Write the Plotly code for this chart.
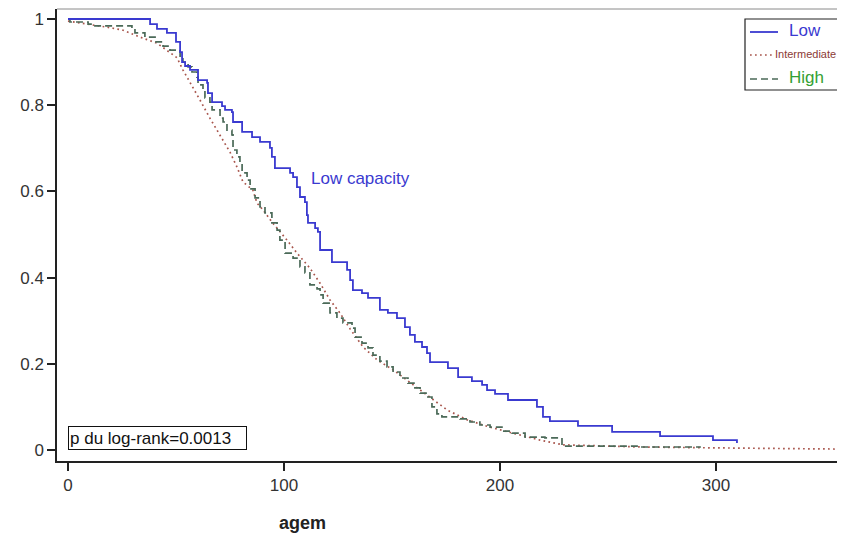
import plotly.graph_objects as go

# ---- data ----
low_t = [0, 38.0, 41.2, 45.8, 50.0, 51.9, 52.8, 54.2, 56.5, 60.2, 64.4, 64.8, 66.7, 71.3, 72.7, 75.9,
         76.4, 80.6, 85.2, 88.9, 93.5, 94.4, 95.8, 102.8, 104.2, 106.0, 107.4, 109.7, 110.6, 111.1,
         114.4, 115.7, 116.7, 122.2, 129.2, 130.6, 131.9, 136.1, 138.9, 144.4, 148.1, 152.3, 156.0,
         158.3, 160.6, 163.9, 166.2, 167.6, 175.9, 180.6, 187.0, 191.7, 194.0, 197.7, 203.7, 217.1,
         219.9, 223.1, 236.1, 251.9, 274.1, 298.6, 309.7]
low_s = [1.0, 0.988, 0.977, 0.968, 0.947, 0.923, 0.900, 0.891, 0.882, 0.858, 0.852, 0.828, 0.807,
         0.798, 0.789, 0.784, 0.761, 0.738, 0.726, 0.715, 0.701, 0.680, 0.654, 0.643, 0.633, 0.610,
         0.587, 0.575, 0.545, 0.527, 0.515, 0.506, 0.464, 0.436, 0.418, 0.394, 0.371, 0.364, 0.353,
         0.325, 0.318, 0.306, 0.285, 0.267, 0.251, 0.239, 0.225, 0.204, 0.190, 0.169, 0.160, 0.151,
         0.139, 0.130, 0.116, 0.100, 0.077, 0.067, 0.056, 0.042, 0.032, 0.023, 0.016]

inter_t = [0, 10.2, 18.1, 25.5, 33.3, 41.2, 47.2, 50.5, 53.2, 56.5, 61.1, 65.7, 70.4, 75.0, 78.2,
           81.0, 85.6, 87.5, 90.3, 94.4, 101.4, 106.0, 112.0, 116.7, 121.3, 125.9, 130.6, 136.6,
           143.1, 150.5, 156.9, 163.0, 169.0, 175.5, 184.7, 195.4, 206.0, 218.5, 229.2, 264.8,
           298.6, 359.7]
inter_s = [0.995, 0.988, 0.981, 0.974, 0.958, 0.944, 0.923, 0.910, 0.882, 0.854, 0.812, 0.770,
           0.731, 0.691, 0.657, 0.622, 0.603, 0.573, 0.557, 0.529, 0.487, 0.457, 0.422, 0.387,
           0.348, 0.318, 0.281, 0.239, 0.209, 0.186, 0.162, 0.139, 0.116, 0.093, 0.070, 0.053,
           0.039, 0.023, 0.012, 0.007, 0.005, 0.002]

high_t = [0, 0.9, 9.3, 11.1, 29.6, 31.0, 35.6, 40.3, 44.0, 47.2, 51.9, 53.2, 55.6, 57.4, 59.7, 60.2,
          62.5, 63.4, 65.7, 66.7, 70.4, 71.8, 73.6, 75.9, 76.4, 78.2, 79.6, 80.6, 82.9, 84.3, 86.6,
          88.9, 91.2, 94.4, 96.8, 98.1, 100.5, 104.2, 107.4, 109.7, 112.0, 115.3, 116.7, 118.1,
          121.3, 124.5, 127.3, 131.5, 132.9, 136.1, 138.9, 141.2, 144.4, 147.7, 150.5, 153.7,
          157.4, 160.6, 163.0, 166.2, 168.5, 170.8, 173.1, 181.5, 186.1, 190.7, 195.4, 200.9,
          205.6, 211.6, 220.8, 228.7, 264.8, 292.6]
high_s = [1.0, 0.993, 0.988, 0.984, 0.977, 0.968, 0.958, 0.947, 0.937, 0.928, 0.910, 0.900, 0.889,
          0.877, 0.865, 0.847, 0.835, 0.817, 0.807, 0.789, 0.770, 0.761, 0.742, 0.731, 0.696,
          0.680, 0.666, 0.643, 0.626, 0.606, 0.585, 0.564, 0.550, 0.527, 0.510, 0.487, 0.457,
          0.445, 0.425, 0.411, 0.383, 0.374, 0.360, 0.341, 0.318, 0.306, 0.295, 0.283, 0.262,
          0.248, 0.237, 0.220, 0.206, 0.193, 0.181, 0.167, 0.155, 0.144, 0.132, 0.123, 0.100,
          0.084, 0.077, 0.072, 0.065, 0.058, 0.053, 0.044, 0.039, 0.030, 0.028, 0.009, 0.007, 0.005]

x_ticks = [0, 100, 200, 300]
y_ticks = [0, 0.2, 0.4, 0.6, 0.8, 1]
y_labels = ["0", "0.2", "0.4", "0.6", "0.8", "1"]

BLUE = "#3a3ad0"
RED = "#a8554c"
GREEN = "#4b6a58"
FONT = "Liberation Sans, Arial, sans-serif"

fig = go.Figure()
fig.add_trace(go.Scatter(x=inter_t, y=inter_s, mode="lines", name="Intermediate",
                         line=dict(color=RED, width=1.7, dash="1.7px,3.3px"), showlegend=False))
fig.add_trace(go.Scatter(x=high_t, y=high_s, mode="lines", name="High", line_shape="hv",
                         line=dict(color=GREEN, width=1.7, dash="7px,4px"), showlegend=False))
fig.add_trace(go.Scatter(x=low_t, y=low_s, mode="lines", name="Low", line_shape="hv",
                         line=dict(color=BLUE, width=1.8), showlegend=False))

# the page body has an 8px margin: work in reference pixels, shift by OFF
OFF = 8
W, H = 845 - OFF, 534 - OFF
L = 57 - OFF
T = 9 - OFF
PB = 461 - OFF           # plot bottom in figure pixels
B = H - PB
R = 0
pw, ph = W - L - R, PB - T


def px(xr):
    return (xr - OFF - L) / pw


def py(yr):
    return (PB - (yr - OFF)) / ph


shapes = []
# top gray frame line
shapes.append(dict(type="line", xref="paper", yref="paper", x0=0, x1=1, y0=1, y1=1,
                   line=dict(color="#8a8a8a", width=1)))
# legend box
shapes.append(dict(type="rect", xref="paper", yref="paper", x0=px(745), x1=px(838),
                   y0=py(90), y1=py(19), line=dict(color="#222", width=1.2), fillcolor="white"))
shapes.append(dict(type="line", xref="paper", yref="paper", x0=px(750), x1=px(778),
                   y0=py(32), y1=py(32), line=dict(color=BLUE, width=1.8)))
shapes.append(dict(type="line", xref="paper", yref="paper", x0=px(750), x1=px(772),
                   y0=py(55), y1=py(55), line=dict(color=RED, width=1.7, dash="1.7px,3.3px")))
shapes.append(dict(type="line", xref="paper", yref="paper", x0=px(750), x1=px(778),
                   y0=py(79), y1=py(79), line=dict(color=GREEN, width=1.7, dash="7px,4px")))

annotations = [
    dict(xref="paper", yref="paper", x=px(787), y=py(31), xanchor="left", yanchor="middle",
         text="Low", showarrow=False, font=dict(family=FONT, size=17, color=BLUE)),
    dict(xref="paper", yref="paper", x=px(773), y=py(54), xanchor="left", yanchor="middle",
         text="Intermediate", showarrow=False, font=dict(family=FONT, size=11, color="#8b3a36")),
    dict(xref="paper", yref="paper", x=px(787), y=py(77), xanchor="left", yanchor="middle",
         text="High", showarrow=False, font=dict(family=FONT, size=17, color="#33a033")),
    dict(xref="paper", yref="paper", x=px(68), y=py(450), xanchor="left", yanchor="bottom",
         text="p du log-rank=0.0013", showarrow=False, align="left",
         font=dict(family=FONT, size=17, color="#111"),
         bordercolor="#111", borderwidth=1, borderpad=1, bgcolor="white", width=175, height=20),
    dict(xref="x", yref="y", x=135.2, y=0.631, xanchor="center", yanchor="middle",
         text="Low capacity", showarrow=False, font=dict(family=FONT, size=17, color=BLUE)),
    dict(xref="paper", yref="paper", x=px(302), y=py(523), xanchor="center", yanchor="middle",
         text="<b>agem</b>", showarrow=False, font=dict(family=FONT, size=18, color="#222")),
]

fig.update_layout(
    width=W, height=H,
    margin=dict(l=L, r=R, t=T, b=B, pad=0),
    paper_bgcolor="white", plot_bgcolor="white",
    font=dict(family=FONT, size=16, color="#333"),
    shapes=shapes, annotations=annotations,
    xaxis=dict(range=[(57 - 68) / 2.16, (845 - 68) / 2.16], tickvals=x_ticks,
               ticks="outside", ticklen=8, tickwidth=1.5, tickcolor="#222",
               showline=True, linecolor="#222", linewidth=1.5, showgrid=False, zeroline=False,
               tickfont=dict(family=FONT, size=17, color="#333")),
    yaxis=dict(range=[-11 / 431, 1 + 10 / 431], tickvals=y_ticks, ticktext=y_labels,
               ticks="outside", ticklen=8, tickwidth=1.5, tickcolor="#222",
               showline=True, linecolor="#222", linewidth=1.5, showgrid=False, zeroline=False,
               tickfont=dict(family=FONT, size=17, color="#333")),
)

fig.write_html("out.html")
